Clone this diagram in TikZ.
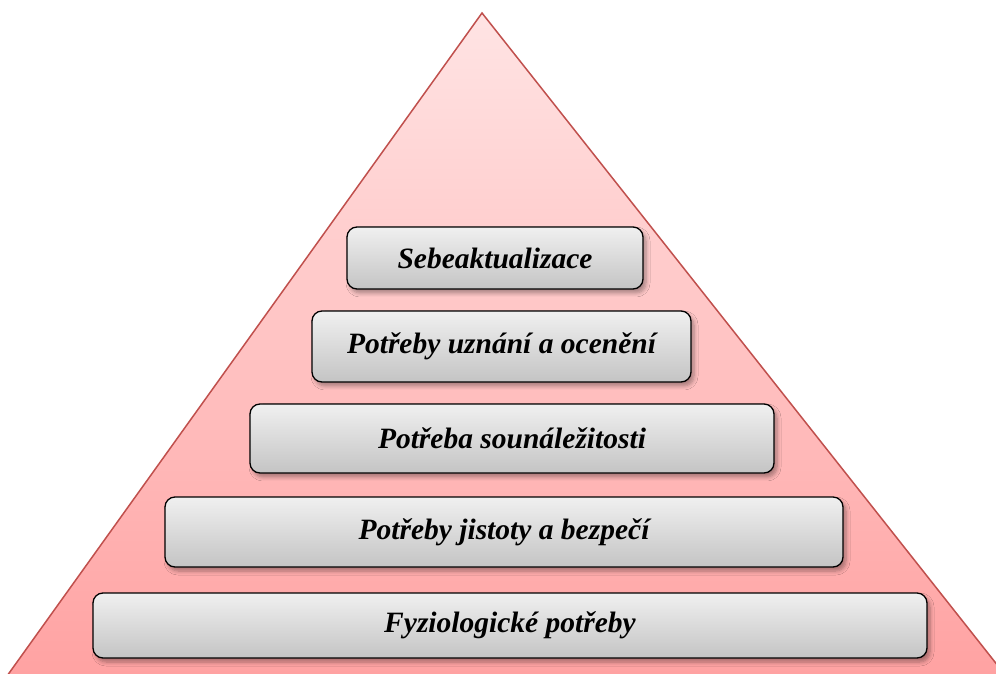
\documentclass[tikz,border=0pt]{standalone}
\usepackage{fontspec}
\setmainfont{Liberation Serif}
\usetikzlibrary{shadows.blur}
\definecolor{tribord}{HTML}{C0504D}
\definecolor{tritop}{HTML}{FFE4E4}
\definecolor{tribot}{HTML}{FFA2A2}
\definecolor{boxtop}{HTML}{F0F0F0}
\definecolor{boxbot}{HTML}{C4C4C4}
\tikzset{
  level/.style={draw=black, line width=1.3pt, rounded corners=10pt,
    top color=boxtop, bottom color=boxbot,
    blur shadow={shadow xshift=3pt, shadow yshift=-4pt, shadow blur steps=6, shadow opacity=35, shadow blur radius=4pt},
    font=\fontsize{29.5}{33}\selectfont\bfseries\itshape, inner sep=0pt},
  tri/.style={draw=tribord, line width=1.5pt, top color=tritop, bottom color=tribot}
}
\begin{document}
\begin{tikzpicture}[x=1pt,y=1pt]
\useasboundingbox (0,0) rectangle (996,673);
\begin{scope}
\clip (0,0) rectangle (996,673);
\coordinate (apex) at (482,660);
\coordinate (bl) at (7,-3);
\coordinate (br) at (1006,-3);
\path[tri] (bl) -- (apex) -- (br) -- cycle;
\end{scope}
\node[level, minimum width=296pt, minimum height=62pt] (n1) at (495,415) {Sebeaktualizace};
\node[level, minimum width=379pt, minimum height=71pt] (n2) at (501.5,326.5) {Potřeby uznání a ocenění};
\node[level, minimum width=524pt, minimum height=69pt] (n3) at (512,234.5) {Potřeba sounáležitosti};
\node[level, minimum width=678pt, minimum height=70pt] (n4) at (504,141) {Potřeby jistoty a bezpečí};
\node[level, minimum width=834pt, minimum height=65pt] (n5) at (510,47.5) {Fyziologické potřeby};
\end{tikzpicture}
\end{document}
